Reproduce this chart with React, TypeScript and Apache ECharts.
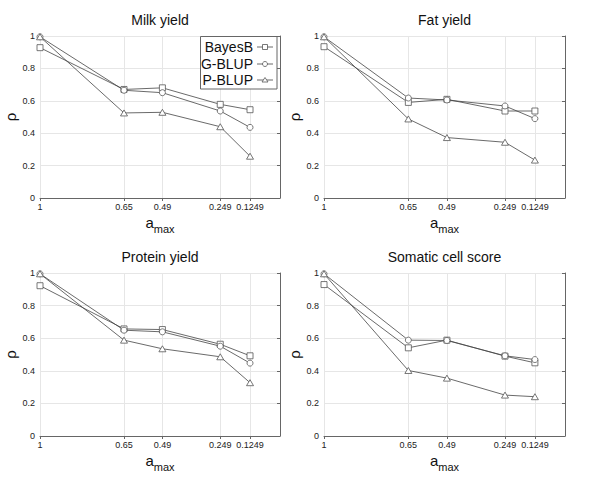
import React, { useEffect, useRef } from "react";
import * as echarts from "echarts";

const amax = [1, 0.65, 0.49, 0.249, 0.1249];
const titles = ["Milk yield", "Fat yield", "Protein yield", "Somatic cell score"];
const methods = ["BayesB", "G-BLUP", "P-BLUP"];
const symbols = ["rect", "circle", "triangle"];

const milkBayesB = [0.928, 0.67, 0.68, 0.578, 0.545];
const milkGBLUP = [0.995, 0.665, 0.65, 0.537, 0.436];
const milkPBLUP = [0.995, 0.525, 0.529, 0.44, 0.258];
const fatBayesB = [0.934, 0.59, 0.609, 0.537, 0.537];
const fatGBLUP = [0.995, 0.617, 0.605, 0.568, 0.49];
const fatPBLUP = [0.995, 0.488, 0.373, 0.344, 0.234];
const proteinBayesB = [0.922, 0.657, 0.653, 0.563, 0.492];
const proteinGBLUP = [0.995, 0.649, 0.639, 0.551, 0.447];
const proteinPBLUP = [0.995, 0.588, 0.535, 0.486, 0.327];
const scsBayesB = [0.929, 0.541, 0.588, 0.49, 0.449];
const scsGBLUP = [0.995, 0.588, 0.586, 0.492, 0.469];
const scsPBLUP = [0.995, 0.402, 0.355, 0.251, 0.241];

const panels = [
  [milkBayesB, milkGBLUP, milkPBLUP],
  [fatBayesB, fatGBLUP, fatPBLUP],
  [proteinBayesB, proteinGBLUP, proteinPBLUP],
  [scsBayesB, scsGBLUP, scsPBLUP],
];

const FONT = "Liberation Sans, Arial, sans-serif";
const grids = [
  { left: 40, top: 36, width: 240, height: 162 },
  { left: 324, top: 36, width: 241, height: 162 },
  { left: 40, top: 273, width: 240, height: 163 },
  { left: 324, top: 273, width: 241, height: 163 },
];

export default function App() {
  const ref = useRef<HTMLDivElement>(null);
  useEffect(() => {
    if (!ref.current) return;
    const chart = echarts.init(ref.current, undefined, { renderer: "svg" });
    const lineColor = "#444";
    const markerColor = "#555";
    const axisColor = "#666";
    const gridColor = "#e6e6e6";

    const series: any[] = [];
    panels.forEach((panel, i) => {
      panel.forEach((vals, k) => {
        series.push({
          type: "line",
          name: methods[k],
          xAxisIndex: i,
          yAxisIndex: i,
          data: amax.map((x, j) => [x, vals[j]]),
          symbol: symbols[k],
          symbolSize: k === 2 ? [7, 6] : 6,
          lineStyle: { color: lineColor, width: 0.8 },
          itemStyle: { color: "#fff", borderColor: markerColor, borderWidth: 0.8 },
        });
      });
    });

    const lg = { x: 200.5, y: 36.5, w: 76.5, h: 52.5 };
    const legendRows = [47, 64, 80];
    const legendGraphics: any[] = [
      {
        type: "rect",
        shape: { x: lg.x, y: lg.y, width: lg.w, height: lg.h },
        style: { fill: "#fff", stroke: axisColor, lineWidth: 1 },
        z: 100,
      },
    ];
    methods.forEach((m, k) => {
      const cy = legendRows[k];
      legendGraphics.push({
        type: "text",
        x: 253,
        y: cy,
        style: { text: m, font: `14px ${FONT}`, fill: "#111", textAlign: "right", textVerticalAlign: "middle" },
        z: 101,
      });
      legendGraphics.push({
        type: "line",
        shape: { x1: 257, y1: cy, x2: 273, y2: cy },
        style: { stroke: lineColor, lineWidth: 0.8 },
        z: 101,
      });
      const mk =
        k === 0
          ? { type: "rect", shape: { x: 262.5, y: cy - 2.5, width: 5, height: 5 } }
          : k === 1
          ? { type: "circle", shape: { cx: 265, cy, r: 2.5 } }
          : { type: "polygon", shape: { points: [[265, cy - 2.5], [268, cy + 2], [262, cy + 2]] } };
      legendGraphics.push({
        ...mk,
        style: { fill: "#fff", stroke: markerColor, lineWidth: 0.8 },
        z: 102,
      });
    });

    const option: any = {
      animation: false,
      backgroundColor: "#fff",
      title: titles.map((t, i) => ({
        text: t,
        left: grids[i].left + grids[i].width / 2,
        top: i < 2 ? 13 : 250,
        textAlign: "center",
        textStyle: { fontSize: 14, fontWeight: "normal", color: "#111", fontFamily: FONT },
        padding: 0,
      })),
      grid: grids.map((g) => ({ ...g, containLabel: false })),
      xAxis: grids.map((g, i) => ({
        gridIndex: i,
        type: "value",
        min: 0,
        max: 1,
        inverse: true,
        axisLine: { show: true, lineStyle: { color: axisColor } },
        axisTick: { show: true, customValues: amax, length: 3, lineStyle: { color: axisColor } },
        axisLabel: {
          customValues: amax,
          fontSize: 9,
          color: "#222",
          margin: 4,
          fontFamily: FONT,
          formatter: (v: number) => String(v),
        },
        splitLine: { show: true, lineStyle: { color: gridColor } },
        name: "{a|a}{s|max}",
        nameLocation: "middle",
        nameGap: 17,
        nameMoveOverlap: false,
        nameTextStyle: {
          rich: {
            a: { fontSize: 15, fontFamily: FONT, color: "#111", verticalAlign: "bottom", padding: [0, 0, 4, 0] },
            s: { fontSize: 11, fontFamily: FONT, color: "#111", verticalAlign: "bottom" },
          },
        },
      })),
      yAxis: grids.map((g, i) => ({
        gridIndex: i,
        type: "value",
        min: 0,
        max: 1,
        interval: 0.2,
        axisLine: { show: true, lineStyle: { color: axisColor } },
        axisTick: { show: true, length: 3, lineStyle: { color: axisColor } },
        axisLabel: { fontSize: 9, color: "#222", margin: 5, fontFamily: FONT },
        splitLine: { show: true, lineStyle: { color: gridColor } },
        name: "ρ",
        nameLocation: "middle",
        nameRotate: 90,
        nameGap: 22,
        nameMoveOverlap: false,
        nameTextStyle: { fontSize: 15, fontFamily: FONT, color: "#111" },
      })),
      series,
      graphic: legendGraphics,
    };
    chart.setOption(option);
    return () => chart.dispose();
  }, []);
  return (
    <div
      ref={ref}
      style={{ position: "fixed", left: 0, top: 0, width: 600, height: 477, background: "#fff" }}
    />
  );
}
